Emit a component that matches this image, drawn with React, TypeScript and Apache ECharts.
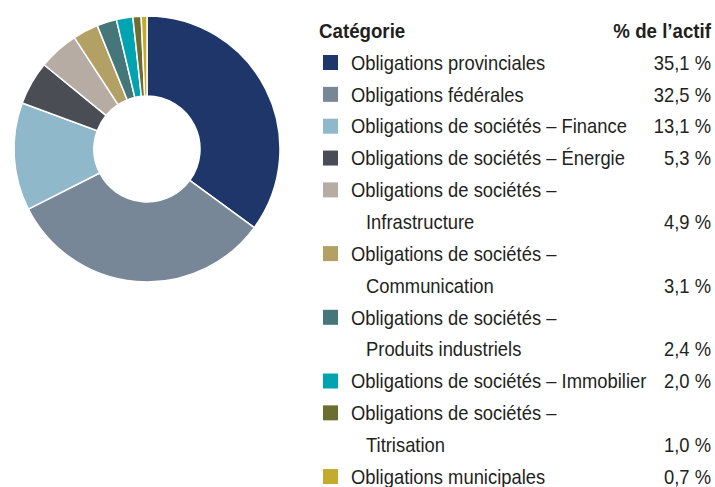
import React, { useEffect, useRef } from "react";
import * as echarts from "echarts";

const categoryLines: string[][] = [
  ["Obligations provinciales"],
  ["Obligations fédérales"],
  ["Obligations de sociétés – Finance"],
  ["Obligations de sociétés – Énergie"],
  ["Obligations de sociétés –", "Infrastructure"],
  ["Obligations de sociétés –", "Communication"],
  ["Obligations de sociétés –", "Produits industriels"],
  ["Obligations de sociétés – Immobilier"],
  ["Obligations de sociétés –", "Titrisation"],
  ["Obligations municipales"],
];
const values: number[] = [35.1, 32.5, 13.1, 5.3, 4.9, 3.1, 2.4, 2.0, 1.0, 0.7];
const valueLabels: string[] = ["35,1 %", "32,5 %", "13,1 %", "5,3 %", "4,9 %", "3,1 %", "2,4 %", "2,0 %", "1,0 %", "0,7 %"];
const colors: string[] = [
  "#1f366b", "#778797", "#8fb9cb", "#4a4d53", "#b6aca3",
  "#b3a064", "#457679", "#00a3b0", "#6c6d30", "#c2ab2e",
];
const headerLeft = "Catégorie";
const headerRight = "% de l’actif";

const FONT_FAMILY = "'Liberation Sans Narrow', 'Arial Narrow', 'Liberation Sans', Arial, sans-serif";
const TEXT_COLOR = "#231f20";
const SQUEEZE = 0.92;

export default function App() {
  const ref = useRef<HTMLDivElement>(null);
  useEffect(() => {
    document.body.style.margin = "0";
    if (!ref.current) return;
    const chart = echarts.init(ref.current, undefined, { renderer: "svg" });

    const graphics: any[] = [];
    const textEl = (text: string, x: number, y: number, align: string, bold = false) => ({
      type: "text",
      x,
      y,
      scaleX: bold ? 0.935 : SQUEEZE,
      style: {
        text,
        fill: TEXT_COLOR,
        font: `${bold ? "bold " : ""}20px ${FONT_FAMILY}`,
        align,
        textAlign: align,
        verticalAlign: "middle",
        textVerticalAlign: "middle",
      },
    });
    graphics.push(textEl(headerLeft, 319, 31, "left", true));
    graphics.push(textEl(headerRight, 711, 31, "right", true));

    const y0 = 63;
    const step = 31.85;
    let lineIdx = 0;
    categoryLines.forEach((lines, i) => {
      const yFirst = y0 + lineIdx * step;
      graphics.push({
        type: "rect",
        shape: { x: 323, y: yFirst - 8, width: 15, height: 15 },
        style: { fill: colors[i] },
      });
      lines.forEach((ln, j) => {
        const y = y0 + (lineIdx + j) * step;
        graphics.push(textEl(ln, j === 0 ? 351 : 366, y, "left"));
      });
      const yLast = y0 + (lineIdx + lines.length - 1) * step;
      graphics.push(textEl(valueLabels[i], 711, yLast, "right"));
      lineIdx += lines.length;
    });

    chart.setOption({
      animation: false,
      color: colors,
      graphic: graphics,
      series: [
        {
          type: "pie",
          center: [147, 149],
          radius: [53, 133],
          startAngle: 90,
          clockwise: true,
          label: { show: false },
          labelLine: { show: false },
          itemStyle: { borderColor: "#ffffff", borderWidth: 1.5 },
          emphasis: { disabled: true },
          data: values.map((v, i) => ({ value: v, name: categoryLines[i].join(" ") })),
        },
      ],
    });
    return () => chart.dispose();
  }, []);
  return <div ref={ref} style={{ width: 715, height: 487 }} />;
}
